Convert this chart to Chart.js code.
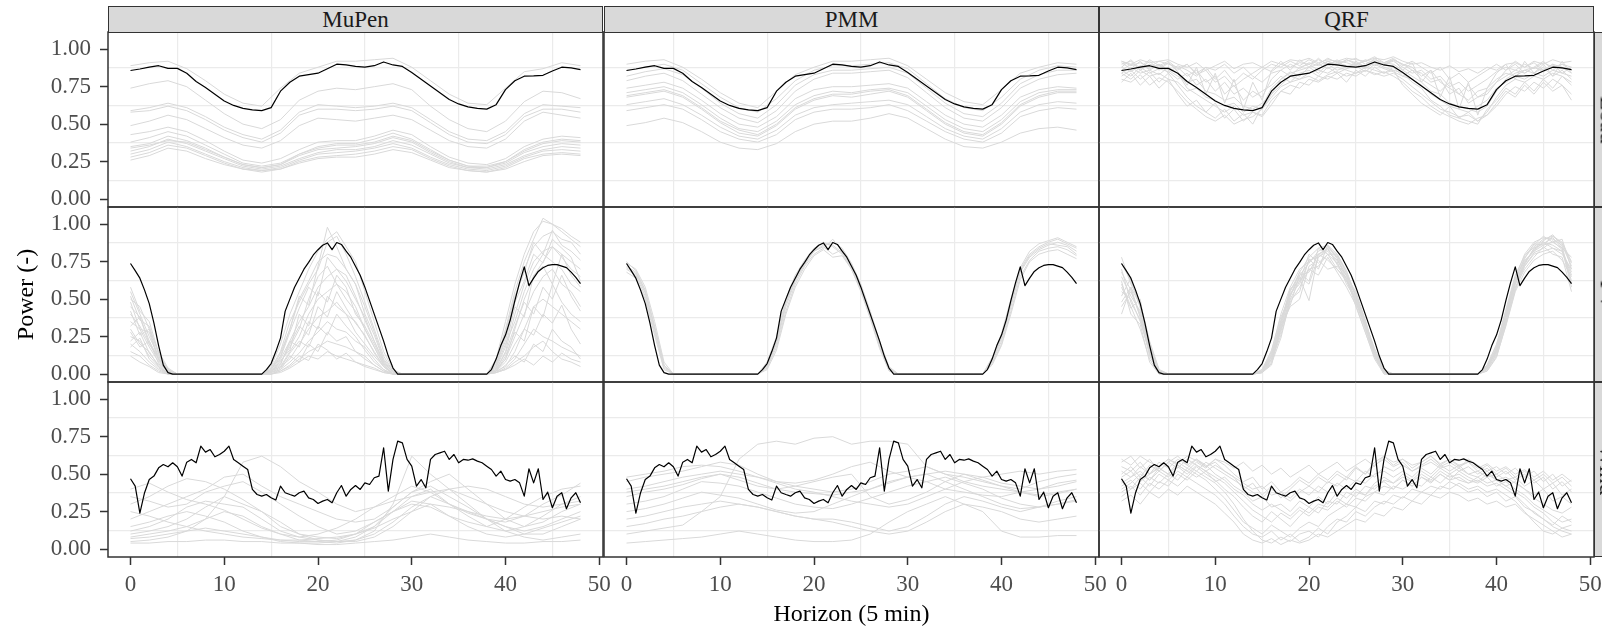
<!DOCTYPE html>
<html>
<head>
    <title>Scenarios by method</title>
    <meta charset="utf-8" />
    <style>
    html, body { margin: 0; padding: 0; background: #fff; overflow: hidden; }
    #stage { position: relative; width: 1602px; height: 627px; overflow: hidden; font-family: "Liberation Serif", "DejaVu Serif", serif; }
    #stage canvas { position: absolute; }
    .strip { position: absolute; box-sizing: border-box; background: #D9D9D9; border: 1.5px solid #333; color: #1A1A1A; font-size: 23px; display: flex; align-items: center; justify-content: center; overflow: visible; -webkit-font-smoothing: antialiased; }
    .strip.side span { display: inline-block; transform: rotate(90deg) translateZ(0); will-change: transform; white-space: nowrap; color: #1A1A1A; }
    </style>
    <script src="https://cdn.jsdelivr.net/npm/chart.js"></script>
</head>
<body>
<div id="stage"></div>
<script>
// facets
const methods = ['MuPen', 'PMM', 'QRF'];
const sources = ['Load', 'PV', 'Wind'];
const xTicks = [0, 10, 20, 30, 40, 50];
const yTicks = [0, 0.25, 0.5, 0.75, 1];

// horizon steps
const hour2 = [0,2,4,6,8,10,12,14,16,18,20,22,24,26,28,30,32,34,36,38,40,42,44,46,48];
const hour1 = [0,1,2,3,4,5,6,7,8,9,10,11,12,13,14,15,16,17,18,19,20,21,22,23,24,25,26,27,28,29,30,31,32,33,34,35,36,37,38,39,40,41,42,43,44,45,46,47,48];
const hourHalf = [0,0.5,1,1.5,2,2.5,3,3.5,4,4.5,5,5.5,6,6.5,7,7.5,8,8.5,9,9.5,10,10.5,11,11.5,12,12.5,13,13.5,14,14.5,15,15.5,16,16.5,17,17.5,18,18.5,19,19.5,20,20.5,21,21.5,22,22.5,23,23.5,24,24.5,25,25.5,26,26.5,27,27.5,28,28.5,29,29.5,30,30.5,31,31.5,32,32.5,33,33.5,34,34.5,35,35.5,36,36.5,37,37.5,38,38.5,39,39.5,40,40.5,41,41.5,42,42.5,43,43.5,44,44.5,45,45.5,46,46.5,47,47.5,48];

// observed (black)
const obsLoad = [.858,.868,.88,.89,.872,.872,.84,.785,.745,.70,.655,.625,.605,.595,.59,.61,.72,.78,.82,.83,.84,.87,.90,.895,.885,.88,.89,.915,.895,.885,.845,.80,.755,.71,.665,.635,.615,.605,.60,.63,.73,.79,.82,.822,.826,.855,.88,.875,.864];
const obsPV = [.738,.69,.64,.56,.47,.34,.19,.06,.01,0,0,0,0,0,0,0,0,0,0,0,0,0,0,0,0,0,0,0,0,
  .03,.07,.15,.24,.42,.50,.58,.64,.70,.745,.795,.83,.86,.875,.83,.878,.865,.82,.78,.72,.66,.58,.49,.40,.31,.22,.12,.04,
  0,0,0,0,0,0,0,0,0,0,0,0,0,0,0,0,0,0,0,0,
  .03,.10,.19,.26,.36,.49,.61,.715,.59,.64,.685,.71,.725,.73,.73,.72,.71,.68,.645,.604];
const obsWind = [.469,.42,.24,.376,.464,.487,.542,.564,.549,.576,.549,.487,.58,.598,.576,.687,.647,.664,.616,.631,.653,.687,.598,.576,.553,.531,.398,.364,.353,.364,.342,.327,.42,.376,.364,.353,.376,.387,.342,.331,.304,.32,.331,.309,.376,.424,.353,.398,.424,.398,.442,.431,.476,.487,.676,.387,.598,.72,.709,.598,.553,.42,.464,.409,.598,.631,.642,.653,.598,.631,.576,.598,.593,.602,.587,.576,.553,.531,.487,.52,.464,.453,.464,.442,.353,.536,.442,.536,.331,.38,.276,.353,.376,.269,.342,.376,.309];

// scenarios (grey)
const mupenLoad = [
  [.89,.91,.92,.87,.79,.70,.64,.62,.74,.84,.88,.92,.92,.93,.94,.88,.79,.70,.64,.63,.74,.85,.87,.91,.89],
  [.74,.77,.79,.75,.66,.57,.50,.47,.53,.66,.72,.74,.73,.75,.77,.73,.62,.53,.47,.45,.52,.65,.72,.71,.67],
  [.59,.61,.64,.61,.55,.48,.43,.40,.46,.58,.63,.62,.61,.62,.64,.61,.53,.45,.40,.39,.45,.57,.63,.62,.61],
  [.58,.59,.62,.59,.53,.46,.41,.38,.44,.56,.60,.60,.59,.60,.62,.59,.51,.43,.38,.37,.43,.55,.60,.60,.58],
  [.49,.52,.56,.53,.47,.41,.36,.34,.39,.49,.54,.53,.52,.54,.56,.53,.46,.39,.35,.34,.40,.52,.58,.56,.54],
  [.43,.45,.48,.45,.39,.32,.26,.24,.27,.33,.38,.39,.39,.42,.46,.43,.35,.28,.24,.23,.27,.35,.40,.42,.41],
  [.38,.41,.45,.42,.36,.30,.24,.22,.24,.30,.35,.37,.37,.40,.44,.40,.33,.26,.22,.21,.25,.32,.37,.39,.38],
  [.35,.37,.42,.39,.34,.28,.23,.21,.23,.29,.33,.34,.35,.37,.41,.38,.31,.25,.21,.21,.24,.31,.35,.37,.36],
  [.32,.35,.40,.37,.32,.27,.22,.20,.22,.27,.31,.33,.33,.35,.39,.36,.30,.24,.21,.20,.23,.29,.33,.35,.34],
  [.30,.33,.38,.35,.30,.25,.21,.19,.21,.26,.30,.31,.32,.34,.37,.34,.28,.23,.20,.19,.22,.28,.32,.33,.32],
  [.28,.31,.36,.34,.29,.24,.20,.19,.20,.25,.28,.29,.30,.32,.35,.33,.27,.22,.19,.18,.21,.27,.30,.31,.30],
  [.26,.29,.34,.32,.27,.23,.20,.18,.20,.24,.27,.28,.28,.30,.33,.31,.26,.21,.19,.18,.20,.25,.29,.30,.29],
  [.34,.36,.39,.38,.33,.28,.23,.21,.23,.30,.34,.36,.36,.38,.42,.39,.32,.26,.22,.22,.25,.33,.38,.40,.39]
];
const pmmLoad = [
  [.90,.92,.93,.88,.80,.71,.64,.61,.72,.83,.88,.92,.92,.93,.94,.89,.80,.71,.65,.63,.73,.84,.88,.91,.90],
  [.82,.85,.87,.83,.74,.64,.57,.54,.63,.76,.83,.86,.86,.87,.88,.84,.74,.64,.57,.55,.64,.77,.83,.86,.86],
  [.79,.82,.84,.79,.70,.61,.54,.51,.59,.72,.80,.84,.84,.85,.86,.81,.71,.61,.54,.52,.61,.74,.80,.83,.84],
  [.71,.73,.75,.71,.63,.54,.47,.45,.52,.63,.69,.72,.71,.73,.74,.71,.62,.53,.47,.45,.53,.65,.71,.73,.73],
  [.69,.71,.73,.69,.61,.52,.46,.43,.50,.61,.67,.70,.70,.72,.73,.69,.60,.51,.45,.43,.51,.63,.69,.72,.72],
  [.68,.70,.72,.68,.60,.51,.44,.42,.49,.60,.66,.69,.68,.70,.72,.68,.59,.50,.44,.42,.50,.62,.68,.71,.71],
  [.63,.65,.67,.63,.56,.48,.42,.40,.46,.56,.61,.63,.64,.65,.66,.63,.55,.47,.42,.40,.47,.58,.63,.65,.64],
  [.59,.61,.63,.60,.53,.45,.40,.38,.43,.53,.58,.60,.60,.61,.63,.59,.52,.45,.40,.38,.44,.55,.59,.61,.60],
  [.49,.51,.54,.51,.45,.38,.34,.33,.37,.45,.50,.52,.52,.54,.57,.54,.47,.40,.35,.34,.38,.44,.47,.48,.46],
  [.86,.88,.90,.86,.77,.68,.61,.58,.67,.79,.86,.89,.89,.90,.91,.87,.77,.67,.61,.59,.68,.80,.86,.89,.88],
  [.74,.76,.78,.74,.66,.57,.50,.48,.55,.67,.73,.75,.75,.76,.77,.74,.65,.56,.50,.48,.56,.68,.73,.75,.74]
];
const qrfLoad = [
  [.92,.90,.93,.91,.92,.93,.90,.88,.91,.86,.89,.92,.87,.90,.91,.88,.92,.90,.93,.92,.94,.91,.93,.92,.94,.93,.92,.94,.93,.95,.92,.90,.91,.88,.86,.89,.85,.87,.84,.88,.86,.90,.91,.88,.92,.90,.93,.91,.92],
  [.88,.85,.89,.87,.90,.86,.82,.78,.80,.72,.70,.66,.68,.62,.60,.64,.70,.80,.84,.86,.88,.90,.87,.91,.89,.90,.92,.89,.91,.90,.86,.82,.78,.72,.70,.64,.62,.60,.58,.62,.72,.80,.84,.86,.88,.85,.89,.87,.86],
  [.80,.78,.83,.76,.81,.78,.72,.65,.60,.55,.52,.56,.50,.53,.55,.60,.68,.75,.78,.80,.82,.79,.83,.85,.82,.84,.86,.83,.85,.82,.78,.72,.68,.62,.58,.55,.52,.50,.54,.56,.62,.70,.75,.72,.78,.74,.80,.76,.70],
  [.86,.82,.88,.84,.87,.85,.80,.84,.76,.80,.72,.78,.70,.74,.68,.72,.76,.82,.78,.84,.86,.82,.88,.84,.87,.89,.85,.90,.87,.85,.82,.86,.80,.76,.72,.78,.70,.66,.72,.74,.80,.84,.82,.86,.84,.88,.82,.86,.80],
  [.90,.92,.86,.90,.88,.91,.86,.90,.83,.86,.78,.82,.75,.80,.84,.88,.85,.90,.88,.91,.90,.93,.90,.92,.91,.89,.93,.91,.90,.92,.88,.84,.86,.80,.82,.75,.78,.72,.76,.80,.85,.88,.86,.90,.87,.91,.88,.90,.86],
  [.84,.88,.84,.86,.83,.88,.84,.74,.70,.66,.62,.58,.62,.56,.58,.55,.63,.72,.76,.74,.80,.78,.82,.80,.84,.82,.86,.84,.82,.84,.80,.75,.70,.65,.60,.58,.55,.56,.52,.58,.68,.76,.80,.78,.82,.80,.84,.82,.78],
  [.92,.89,.91,.88,.92,.90,.88,.82,.86,.78,.82,.70,.76,.66,.72,.68,.80,.86,.82,.88,.90,.86,.92,.89,.93,.91,.88,.92,.90,.93,.90,.86,.84,.78,.80,.70,.74,.64,.68,.70,.78,.86,.90,.84,.88,.92,.86,.90,.88],
  [.88,.93,.87,.92,.86,.91,.85,.76,.88,.70,.84,.64,.80,.60,.78,.66,.86,.92,.86,.93,.88,.94,.89,.93,.87,.92,.88,.94,.89,.93,.86,.91,.78,.86,.68,.82,.60,.78,.56,.74,.84,.90,.80,.92,.84,.90,.82,.92,.84],
  [.82,.86,.80,.85,.78,.84,.76,.68,.62,.58,.54,.60,.52,.57,.50,.62,.74,.80,.85,.82,.88,.84,.90,.86,.88,.90,.87,.91,.88,.86,.84,.78,.74,.66,.62,.56,.54,.52,.50,.60,.66,.74,.70,.78,.72,.80,.74,.82,.76],
  [.91,.87,.92,.86,.90,.84,.89,.86,.82,.88,.80,.86,.78,.84,.80,.86,.90,.88,.92,.89,.93,.90,.94,.91,.92,.94,.90,.93,.91,.94,.89,.92,.88,.84,.88,.80,.84,.78,.82,.86,.90,.86,.92,.88,.91,.86,.90,.84,.88],
  [.78,.84,.76,.82,.74,.80,.70,.62,.66,.58,.64,.54,.60,.52,.58,.56,.66,.72,.70,.78,.76,.82,.80,.84,.78,.86,.82,.88,.84,.86,.76,.70,.64,.60,.56,.62,.54,.58,.52,.56,.64,.72,.68,.76,.70,.78,.72,.76,.66],
  [.86,.90,.88,.93,.89,.92,.87,.90,.84,.88,.86,.90,.84,.88,.82,.78,.84,.86,.90,.87,.91,.89,.92,.90,.93,.90,.92,.95,.91,.93,.90,.88,.82,.86,.78,.74,.70,.76,.68,.72,.78,.82,.86,.84,.88,.86,.90,.88,.84],
  [.84,.80,.86,.82,.84,.80,.78,.72,.74,.68,.66,.62,.64,.58,.62,.60,.70,.76,.82,.80,.84,.86,.84,.88,.86,.84,.88,.86,.84,.88,.82,.80,.76,.70,.66,.62,.60,.58,.62,.66,.74,.78,.82,.80,.84,.82,.86,.84,.82]
];
const mupenPV = [
  [.55,.40,.25,.12,.03, 0,0,0,0,0,0,0,0,0,0, .05,.20,.40,.55,.70,.82,.90,.95,.85,.75,.55,.35,.15,.03, 0,0,0,0,0,0,0,0,0,0, .10,.35,.60,.80,.95,1.02,1.0,.95,.90,.85],
  [.45,.38,.22,.10,.02, 0,0,0,0,0,0,0,0,0,0, .03,.12,.30,.50,.62,.75,.80,.78,.70,.60,.45,.28,.10,.02, 0,0,0,0,0,0,0,0,0,0, .05,.25,.50,.70,.85,.92,.95,.90,.88,.80],
  [.35,.30,.18,.08,.01, 0,0,0,0,0,0,0,0,0,0, .02,.10,.22,.35,.45,.58,.65,.70,.62,.50,.38,.22,.08,.01, 0,0,0,0,0,0,0,0,0,0, .03,.15,.40,.60,.75,.82,.85,.78,.70,.65],
  [.30,.20,.15,.05,0, 0,0,0,0,0,0,0,0,0,0, .02,.05,.15,.25,.40,.50,.55,.60,.55,.45,.30,.18,.06,0, 0,0,0,0,0,0,0,0,0,0, .05,.20,.35,.55,.70,.80,.75,.70,.60,.55],
  [.25,.22,.12,.05,0, 0,0,0,0,0,0,0,0,0,0, .01,.05,.10,.20,.30,.38,.42,.48,.40,.35,.25,.15,.05,0, 0,0,0,0,0,0,0,0,0,0, .02,.10,.25,.40,.55,.65,.70,.60,.55,.45],
  [.20,.15,.08,.03,0, 0,0,0,0,0,0,0,0,0,0, .01,.03,.08,.14,.22,.28,.35,.30,.28,.22,.18,.10,.03,0, 0,0,0,0,0,0,0,0,0,0, .02,.05,.15,.30,.45,.50,.45,.40,.35,.30],
  [.15,.12,.06,.02,0, 0,0,0,0,0,0,0,0,0,0, 0,.02,.05,.10,.15,.18,.22,.20,.18,.15,.12,.06,.02,0, 0,0,0,0,0,0,0,0,0,0, .01,.04,.10,.20,.30,.25,.22,.18,.15,.12],
  [.50,.45,.30,.15,.04, 0,0,0,0,0,0,0,0,0,0, .02,.08,.18,.30,.50,.65,.72,.60,.50,.42,.30,.18,.06,0, 0,0,0,0,0,0,0,0,0,0, .03,.10,.30,.50,.65,.75,.85,.80,.75,.70],
  [.12,.08,.05,.01,0, 0,0,0,0,0,0,0,0,0,0, 0,.01,.04,.08,.12,.10,.15,.12,.10,.08,.05,.03,.01,0, 0,0,0,0,0,0,0,0,0,0, .01,.03,.08,.12,.18,.22,.15,.10,.08,.05],
  [.40,.32,.20,.10,.02, 0,0,0,0,0,0,0,0,0,0, .04,.15,.35,.48,.60,.70,.88,.92,.80,.65,.48,.30,.12,.02, 0,0,0,0,0,0,0,0,0,0, .08,.30,.55,.75,.90,1.04,1.0,.97,.92,.88],
  [.48,.30,.28,.09,.01, 0,0,0,0,0,0,0,0,0,0, .02,.06,.22,.18,.35,.30,.52,.45,.40,.28,.20,.12,.05,0, 0,0,0,0,0,0,0,0,0,0, .02,.12,.28,.22,.45,.38,.60,.48,.40,.35],
  [.32,.38,.20,.11,.02, 0,0,0,0,0,0,0,0,0,0, .01,.09,.16,.40,.32,.55,.48,.66,.58,.40,.32,.20,.07,0, 0,0,0,0,0,0,0,0,0,0, .04,.18,.45,.38,.66,.72,.60,.80,.66,.58],
  [.22,.28,.14,.06,0, 0,0,0,0,0,0,0,0,0,0, 0,.03,.12,.08,.20,.15,.28,.22,.25,.15,.10,.06,.02,0, 0,0,0,0,0,0,0,0,0,0, .01,.06,.12,.08,.20,.15,.30,.22,.18,.10],
  [.58,.42,.35,.14,.03, 0,0,0,0,0,0,0,0,0,0, .03,.14,.30,.52,.46,.72,.98,.85,.70,.60,.40,.26,.09,.01, 0,0,0,0,0,0,0,0,0,0, .06,.28,.52,.68,.88,.80,.96,.86,.82,.76],
  [.18,.24,.10,.04,0, 0,0,0,0,0,0,0,0,0,0, 0,.02,.06,.12,.09,.20,.16,.10,.14,.08,.06,.04,.01,0, 0,0,0,0,0,0,0,0,0,0, .01,.03,.06,.10,.06,.12,.08,.14,.10,.08],
  [.42,.26,.30,.10,.02, 0,0,0,0,0,0,0,0,0,0, .02,.07,.20,.32,.26,.45,.38,.55,.44,.34,.26,.14,.05,0, 0,0,0,0,0,0,0,0,0,0, .03,.14,.32,.48,.40,.58,.50,.66,.52,.42],
  [.28,.18,.22,.07,0, 0,0,0,0,0,0,0,0,0,0, .01,.04,.14,.22,.18,.32,.26,.40,.32,.25,.16,.08,.03,0, 0,0,0,0,0,0,0,0,0,0, .02,.08,.20,.30,.26,.40,.34,.46,.30,.20],
  [.52,.36,.32,.13,.02, 0,0,0,0,0,0,0,0,0,0, .03,.11,.28,.44,.58,.52,.78,.70,.66,.52,.36,.22,.08,.01, 0,0,0,0,0,0,0,0,0,0, .07,.22,.48,.62,.80,.74,.90,.84,.78,.62]
];
const pmmPV = [
  [.72,.68,.55,.30,.05, 0,0,0,0,0,0,0,0,0,0, .05,.20,.45,.62,.73,.82,.86,.88,.84,.74,.60,.42,.22,.05, 0,0,0,0,0,0,0,0,0,0, .08,.22,.45,.68,.78,.83,.86,.88,.86,.82],
  [.70,.66,.52,.28,.04, 0,0,0,0,0,0,0,0,0,0, .06,.22,.48,.64,.74,.83,.88,.85,.80,.70,.56,.38,.18,.03, 0,0,0,0,0,0,0,0,0,0, .10,.25,.48,.70,.80,.85,.88,.90,.87,.84],
  [.74,.70,.58,.35,.08, 0,0,0,0,0,0,0,0,0,0, .04,.18,.42,.60,.72,.80,.84,.90,.82,.72,.58,.40,.20,.04, 0,0,0,0,0,0,0,0,0,0, .07,.20,.42,.65,.76,.82,.84,.85,.83,.79],
  [.68,.64,.50,.26,.03, 0,0,0,0,0,0,0,0,0,0, .05,.21,.47,.63,.74,.82,.85,.80,.83,.73,.59,.41,.21,.04, 0,0,0,0,0,0,0,0,0,0, .09,.24,.46,.69,.79,.84,.87,.86,.85,.80],
  [.75,.69,.56,.32,.06, 0,0,0,0,0,0,0,0,0,0, .08,.25,.50,.66,.76,.84,.87,.86,.81,.71,.57,.39,.19,.03, 0,0,0,0,0,0,0,0,0,0, .11,.27,.50,.71,.82,.87,.89,.91,.88,.85],
  [.71,.67,.54,.31,.06, 0,0,0,0,0,0,0,0,0,0, .03,.16,.40,.58,.70,.79,.83,.78,.79,.70,.55,.37,.17,.02, 0,0,0,0,0,0,0,0,0,0, .06,.19,.40,.63,.75,.80,.82,.83,.80,.77]
];
const qrfPV = [
  [.74,.62,.45,.20,.02, 0,0,0,0,0,0,0,0,0,0, .02,.12,.35,.55,.68,.78,.84,.86,.80,.68,.52,.35,.16,.02, 0,0,0,0,0,0,0,0,0,0, .05,.18,.40,.62,.78,.85,.90,.92,.88,.75],
  [.55,.50,.35,.15,.01, 0,0,0,0,0,0,0,0,0,0, .01,.08,.30,.50,.62,.70,.72,.80,.70,.62,.48,.30,.12,.01, 0,0,0,0,0,0,0,0,0,0, .04,.15,.38,.60,.72,.80,.82,.84,.80,.70],
  [.45,.55,.40,.18,.02, 0,0,0,0,0,0,0,0,0,0, .03,.15,.40,.58,.70,.75,.80,.84,.78,.65,.55,.36,.15,.02, 0,0,0,0,0,0,0,0,0,0, .06,.20,.42,.65,.75,.82,.86,.88,.84,.78],
  [.78,.60,.48,.22,.03, 0,0,0,0,0,0,0,0,0,0, .02,.10,.28,.52,.65,.60,.78,.82,.75,.60,.50,.32,.14,.01, 0,0,0,0,0,0,0,0,0,0, .03,.14,.35,.58,.70,.78,.85,.80,.78,.55],
  [.60,.45,.30,.10,0, 0,0,0,0,0,0,0,0,0,0, .01,.06,.32,.45,.50,.72,.76,.70,.72,.64,.45,.28,.10,0, 0,0,0,0,0,0,0,0,0,0, .02,.12,.32,.55,.68,.76,.80,.82,.76,.65],
  [.40,.58,.38,.12,.01, 0,0,0,0,0,0,0,0,0,0, .02,.14,.36,.56,.66,.74,.82,.85,.79,.67,.51,.34,.15,.02, 0,0,0,0,0,0,0,0,0,0, .05,.16,.38,.64,.80,.88,.91,.90,.86,.72],
  [.65,.52,.42,.16,.02, 0,0,0,0,0,0,0,0,0,0, .02,.11,.33,.53,.64,.49,.80,.83,.76,.66,.53,.33,.13,.01, 0,0,0,0,0,0,0,0,0,0, .04,.17,.39,.61,.74,.83,.88,.86,.82,.68],
  [.70,.48,.36,.14,.01, 0,0,0,0,0,0,0,0,0,0, .01,.09,.26,.48,.58,.70,.66,.78,.68,.58,.46,.28,.11,.01, 0,0,0,0,0,0,0,0,0,0, .03,.13,.34,.57,.74,.84,.89,.93,.85,.62],
  [.52,.64,.44,.19,.02, 0,0,0,0,0,0,0,0,0,0, .03,.16,.38,.52,.68,.62,.84,.80,.74,.62,.54,.34,.17,.03, 0,0,0,0,0,0,0,0,0,0, .06,.19,.43,.66,.79,.86,.92,.88,.90,.70],
  [.62,.40,.33,.08,0, 0,0,0,0,0,0,0,0,0,0, .01,.07,.24,.50,.55,.77,.70,.86,.77,.63,.49,.31,.12,0, 0,0,0,0,0,0,0,0,0,0, .02,.11,.33,.56,.72,.81,.84,.89,.83,.58],
  [.48,.58,.46,.21,.03, 0,0,0,0,0,0,0,0,0,0, .02,.13,.34,.57,.62,.80,.74,.80,.80,.69,.52,.36,.14,.02, 0,0,0,0,0,0,0,0,0,0, .05,.17,.41,.63,.77,.87,.86,.92,.87,.74],
  [.68,.56,.38,.17,.01, 0,0,0,0,0,0,0,0,0,0, .01,.10,.30,.46,.66,.68,.80,.76,.70,.64,.50,.32,.13,.01, 0,0,0,0,0,0,0,0,0,0, .04,.16,.36,.60,.76,.82,.88,.84,.82,.66],
  [.58,.44,.50,.13,.02, 0,0,0,0,0,0,0,0,0,0, .02,.12,.31,.54,.60,.76,.78,.84,.73,.66,.47,.35,.12,.02, 0,0,0,0,0,0,0,0,0,0, .05,.15,.37,.62,.73,.84,.87,.91,.84,.60]
];
const mupenWind = [
  [.30,.35,.42,.47,.45,.40,.33,.25,.15,.10,.08,.07,.10,.15,.25,.35,.40,.30,.22,.15,.12,.15,.22,.30,.35],
  [.20,.25,.30,.35,.40,.48,.50,.42,.35,.30,.25,.20,.18,.20,.28,.38,.45,.50,.40,.30,.20,.15,.18,.25,.30],
  [.10,.12,.15,.20,.28,.35,.30,.25,.18,.10,.06,.05,.05,.08,.15,.25,.35,.30,.25,.20,.15,.12,.15,.20,.25],
  [.05,.06,.08,.12,.20,.35,.58,.62,.55,.45,.38,.30,.25,.28,.32,.35,.38,.40,.42,.40,.35,.30,.28,.30,.32],
  [.15,.18,.22,.25,.22,.18,.12,.08,.05,.04,.04,.05,.06,.10,.18,.28,.35,.40,.30,.20,.12,.08,.06,.08,.10],
  [.08,.10,.12,.15,.20,.25,.22,.15,.10,.06,.05,.04,.06,.12,.30,.62,.50,.40,.35,.30,.25,.22,.20,.22,.20],
  [.35,.32,.28,.30,.38,.42,.45,.38,.30,.22,.15,.10,.12,.18,.25,.30,.28,.22,.18,.15,.20,.28,.35,.40,.42],
  [.04,.04,.05,.05,.06,.06,.05,.05,.04,.04,.03,.03,.04,.05,.06,.08,.10,.08,.06,.05,.04,.04,.05,.05,.06],
  [.12,.15,.20,.28,.32,.30,.28,.20,.12,.08,.06,.05,.08,.15,.28,.38,.42,.35,.28,.20,.15,.10,.10,.15,.20],
  [.25,.22,.18,.15,.12,.10,.08,.07,.06,.06,.07,.08,.10,.14,.20,.25,.30,.28,.25,.22,.20,.22,.25,.28,.30],
  [.07,.08,.10,.12,.14,.12,.10,.08,.06,.05,.05,.06,.10,.18,.25,.32,.30,.22,.15,.10,.08,.10,.14,.18,.22],
  [.40,.44,.38,.33,.30,.26,.20,.14,.10,.08,.10,.14,.20,.28,.35,.42,.38,.30,.24,.20,.18,.22,.30,.36,.44]
];
const pmmWind = [
  [.45,.48,.50,.52,.55,.58,.56,.50,.45,.42,.40,.38,.40,.45,.50,.52,.55,.50,.48,.45,.42,.40,.45,.48,.50],
  [.40,.42,.45,.48,.50,.52,.50,.48,.45,.44,.46,.50,.55,.58,.52,.48,.45,.40,.38,.36,.35,.38,.40,.42,.45],
  [.35,.38,.40,.43,.47,.50,.48,.44,.40,.38,.37,.36,.38,.40,.44,.48,.50,.52,.50,.46,.42,.38,.36,.38,.40],
  [.30,.32,.35,.40,.45,.44,.42,.38,.34,.30,.28,.27,.30,.34,.38,.42,.45,.48,.44,.40,.34,.30,.28,.30,.32],
  [.25,.27,.30,.34,.38,.36,.34,.30,.26,.24,.25,.30,.35,.40,.45,.48,.50,.45,.40,.35,.30,.27,.28,.32,.35],
  [.20,.22,.25,.28,.30,.32,.30,.28,.25,.22,.20,.20,.18,.15,.12,.15,.22,.30,.35,.32,.28,.25,.28,.30,.33],
  [.10,.12,.14,.16,.25,.35,.60,.70,.72,.70,.74,.75,.70,.72,.72,.70,.55,.50,.45,.42,.40,.38,.35,.37,.40],
  [.04,.05,.06,.07,.08,.10,.12,.10,.08,.06,.05,.05,.06,.10,.18,.25,.30,.35,.30,.25,.12,.08,.08,.09,.09],
  [.15,.17,.20,.22,.25,.28,.30,.28,.25,.22,.20,.18,.15,.12,.10,.12,.18,.25,.30,.28,.25,.20,.18,.20,.22],
  [.48,.50,.52,.55,.56,.55,.52,.48,.44,.40,.38,.35,.32,.30,.28,.30,.35,.40,.45,.48,.50,.52,.50,.52,.53],
  [.38,.40,.42,.45,.48,.50,.46,.42,.40,.42,.45,.48,.50,.35,.30,.33,.38,.45,.50,.48,.44,.42,.40,.44,.46]
];
const qrfWind = [
  [.55,.52,.58,.50,.55,.60,.56,.52,.58,.54,.60,.56,.50,.45,.48,.40,.45,.38,.42,.48,.44,.50,.46,.52,.48,.55,.50,.56,.60,.55,.58,.52,.56,.60,.55,.58,.54,.60,.56,.52,.55,.50,.54,.48,.52,.45,.50,.42,.46],
  [.45,.40,.48,.42,.50,.46,.52,.48,.55,.50,.46,.40,.35,.28,.22,.18,.25,.20,.15,.22,.28,.24,.32,.30,.38,.35,.42,.40,.46,.44,.48,.45,.50,.46,.52,.48,.50,.46,.44,.48,.42,.45,.40,.36,.30,.26,.22,.18,.20],
  [.38,.42,.36,.44,.40,.46,.42,.48,.44,.40,.36,.30,.22,.15,.10,.08,.12,.06,.10,.05,.08,.14,.10,.18,.22,.28,.25,.32,.30,.36,.34,.40,.38,.42,.40,.45,.42,.38,.40,.35,.38,.32,.35,.28,.25,.20,.15,.12,.10],
  [.60,.56,.62,.58,.55,.60,.57,.62,.59,.55,.60,.58,.54,.58,.52,.56,.50,.54,.48,.52,.56,.50,.54,.58,.52,.56,.60,.55,.62,.58,.60,.56,.58,.62,.57,.60,.56,.58,.54,.57,.52,.55,.50,.53,.48,.52,.46,.50,.45],
  [.48,.52,.45,.50,.54,.50,.56,.52,.48,.52,.45,.48,.42,.38,.32,.35,.28,.30,.25,.32,.28,.35,.30,.38,.34,.40,.36,.42,.45,.40,.46,.42,.48,.45,.50,.46,.52,.48,.45,.50,.46,.42,.45,.40,.36,.40,.32,.35,.30],
  [.35,.40,.44,.38,.45,.42,.50,.46,.52,.48,.44,.38,.30,.20,.12,.06,.04,.08,.05,.10,.12,.08,.15,.20,.18,.25,.22,.28,.32,.30,.35,.32,.38,.36,.42,.40,.44,.40,.42,.38,.40,.36,.32,.25,.18,.12,.10,.14,.12],
  [.52,.48,.55,.50,.58,.54,.60,.56,.52,.58,.54,.50,.46,.42,.38,.34,.40,.36,.32,.38,.42,.38,.45,.42,.48,.45,.52,.48,.55,.52,.56,.52,.55,.58,.54,.56,.52,.55,.50,.54,.48,.52,.46,.50,.44,.48,.40,.45,.38],
  [.58,.62,.54,.60,.52,.58,.62,.56,.60,.55,.58,.52,.48,.40,.44,.36,.42,.34,.40,.46,.42,.48,.44,.50,.46,.54,.50,.58,.62,.56,.60,.54,.58,.62,.56,.60,.55,.58,.52,.56,.50,.54,.48,.52,.46,.50,.44,.48,.42],
  [.42,.46,.40,.48,.44,.50,.46,.54,.50,.46,.40,.34,.26,.18,.14,.10,.16,.12,.08,.14,.18,.15,.22,.26,.30,.28,.35,.38,.42,.40,.46,.42,.48,.44,.50,.46,.48,.44,.46,.42,.44,.40,.36,.30,.24,.20,.16,.22,.18],
  [.32,.36,.30,.38,.34,.40,.36,.42,.38,.34,.30,.24,.18,.10,.06,.04,.07,.03,.06,.04,.06,.10,.08,.12,.16,.20,.18,.24,.22,.28,.26,.32,.30,.36,.34,.38,.36,.32,.34,.30,.32,.28,.30,.24,.20,.16,.12,.08,.10],
  [.50,.55,.48,.56,.52,.58,.54,.60,.56,.52,.56,.52,.48,.44,.40,.42,.36,.38,.34,.40,.36,.42,.38,.44,.40,.46,.44,.50,.52,.48,.52,.48,.54,.50,.56,.52,.56,.50,.52,.48,.50,.46,.48,.42,.46,.40,.44,.36,.40],
  [.44,.48,.52,.46,.52,.48,.55,.50,.56,.52,.48,.44,.38,.32,.26,.22,.18,.24,.20,.26,.22,.28,.26,.32,.28,.34,.32,.38,.36,.42,.40,.44,.42,.48,.44,.50,.46,.44,.48,.44,.46,.42,.38,.34,.28,.24,.18,.14,.16],
  [.40,.44,.50,.46,.54,.50,.58,.54,.60,.56,.50,.46,.40,.36,.30,.26,.30,.26,.22,.28,.24,.30,.28,.34,.30,.38,.36,.44,.48,.44,.50,.46,.52,.48,.54,.50,.54,.50,.48,.52,.46,.48,.44,.40,.34,.30,.26,.24,.28]
];

const scenarios = [[mupenLoad, pmmLoad, qrfLoad], [mupenPV, pmmPV, qrfPV], [mupenWind, pmmWind, qrfWind]];
const scenarioHours = [[hour2, hour2, hour1], [hour1, hour1, hour1], [hour2, hour2, hour1]];
const observed = [obsLoad, obsPV, obsWind];
const observedHours = [hour1, hourHalf, hourHalf];

// layout
const family = '"Liberation Serif", "DejaVu Serif", serif';
const colLeft = [108, 604, 1099];
const rowTop = [32, 207, 382];
const panelW = 495, panelH = 175;
const M = 14;
const stage = document.getElementById('stage');

const panelBorder = {
    id: 'panelBorder',
    afterDraw(chart) {
        const a = chart.chartArea, ctx = chart.ctx;
        ctx.save();
        ctx.strokeStyle = '#333';
        ctx.lineWidth = 1.5;
        ctx.strokeRect(a.left, a.top, a.right - a.left, a.bottom - a.top);
        ctx.restore();
    }
};

function fixTicks(vals) {
    return s => { s.ticks = vals.map(v => ({ value: v })); };
}

function panel(c, r) {
    let leftExtra = c === 0 ? colLeft[0] : M;
    let bottomExtra = r === 2 ? 627 - (rowTop[2] + panelH) : M;
    let w = leftExtra + panelW + M, h = M + panelH + bottomExtra;
    let cv = document.createElement('canvas');
    cv.width = w; cv.height = h;
    cv.style.width = w + 'px'; cv.style.height = h + 'px';
    cv.style.left = (colLeft[c] - leftExtra) + 'px';
    cv.style.top = (rowTop[r] - M) + 'px';
    stage.appendChild(cv);

    let hrs = scenarioHours[r][c];
    let datasets = [{
        data: observed[r].map((y, i) => ({ x: observedHours[r][i], y: y })),
        borderColor: '#000', borderWidth: 1.2
    }];
    scenarios[r][c].forEach(ys => {
        datasets.push({
            data: ys.map((y, i) => ({ x: hrs[i], y: y })),
            borderColor: '#D9D9D9', borderWidth: 1
        });
    });

    new Chart(cv, {
        type: 'line',
        data: { datasets: datasets },
        options: {
            responsive: false, animation: false, devicePixelRatio: 1, events: [],
            parsing: false, normalized: true,
            layout: { padding: { top: M, right: M, left: 0, bottom: 0 } },
            elements: { point: { radius: 0 }, line: { tension: 0, borderJoinStyle: 'round' } },
            plugins: { legend: { display: false }, tooltip: { enabled: false } },
            scales: {
                x: {
                    type: 'linear', min: -2.4, max: 50.4, bounds: 'data', position: 'bottom',
                    afterBuildTicks: fixTicks(xTicks),
                    grid: { offset: true, color: '#EBEBEB', lineWidth: 1.2, drawTicks: false },
                    border: { display: false }, ticks: { display: false },
                    afterFit: s => { s.height = 0; s.paddingLeft = 0; s.paddingRight = 0; }
                },
                xl: {
                    type: 'linear', axis: 'x', min: -2.4, max: 50.4, bounds: 'data', position: 'bottom',
                    afterBuildTicks: fixTicks(xTicks),
                    grid: { drawOnChartArea: false, drawTicks: r === 2, tickLength: 8, tickColor: '#333', tickWidth: 1.5 },
                    border: { display: false },
                    ticks: { display: r === 2, autoSkip: false, maxRotation: 0, padding: 6, color: '#4D4D4D',
                             font: { family: family, size: 23 }, callback: v => String(v) },
                    title: { display: r === 2 && c === 1, text: 'Horizon (5 min)', color: '#000',
                             font: { family: family, size: 24, lineHeight: 1.0 }, padding: 0 },
                    afterFit: s => { s.height = bottomExtra; s.paddingLeft = 0; s.paddingRight = 0; }
                },
                y: {
                    type: 'linear', min: -0.053, max: 1.115, bounds: 'data', position: 'left',
                    afterBuildTicks: fixTicks(yTicks),
                    grid: { offset: true, color: '#EBEBEB', lineWidth: 1.2, drawTicks: false },
                    border: { display: false }, ticks: { display: false },
                    afterFit: s => { s.width = 0; s.paddingTop = 0; s.paddingBottom = 0; }
                },
                yl: {
                    type: 'linear', axis: 'y', min: -0.053, max: 1.115, bounds: 'data', position: 'left',
                    afterBuildTicks: fixTicks(yTicks),
                    grid: { drawOnChartArea: false, drawTicks: c === 0, tickLength: 8, tickColor: '#333', tickWidth: 1.5 },
                    border: { display: false },
                    ticks: { display: c === 0, autoSkip: false, padding: 9, color: '#4D4D4D',
                             font: { family: family, size: 23 }, callback: v => v.toFixed(2) },
                    title: { display: c === 0 && r === 1, text: 'Power (-)', color: '#000',
                             font: { family: family, size: 24, lineHeight: 1.1 }, padding: { top: 14, bottom: 0 } },
                    afterFit: s => { s.width = leftExtra; s.paddingTop = 0; s.paddingBottom = 0; }
                }
            }
        },
        plugins: [panelBorder]
    });
}

for (let r = 0; r < 3; r++) {
    for (let c = 0; c < 3; c++) panel(c, r);
}

// facet strips
methods.forEach((m, c) => {
    let d = document.createElement('div');
    d.className = 'strip';
    d.style.left = colLeft[c] + 'px'; d.style.top = '6px';
    d.style.width = panelW + 'px'; d.style.height = '27px';
    d.textContent = m;
    stage.appendChild(d);
});
sources.forEach((s, r) => {
    let d = document.createElement('div');
    d.className = 'strip side';
    d.style.left = (colLeft[2] + panelW) + 'px'; d.style.top = rowTop[r] + 'px';
    d.style.width = '27px'; d.style.height = panelH + 'px';
    let t = document.createElement('span');
    t.textContent = s;
    d.appendChild(t);
    stage.appendChild(d);
});
</script>
</body>
</html>
